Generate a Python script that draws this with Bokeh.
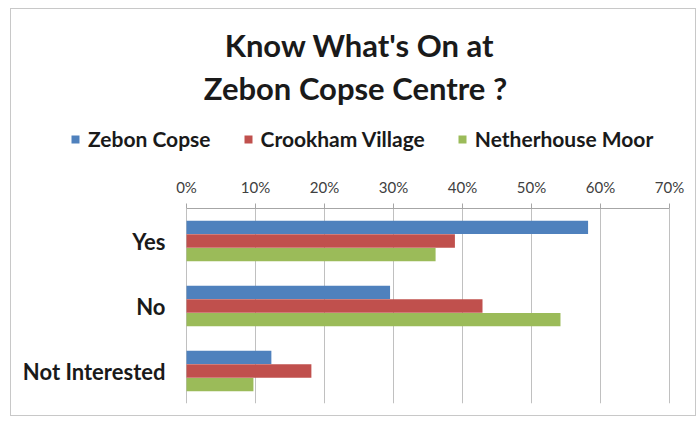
from bokeh.plotting import figure
from bokeh.layouts import column
from bokeh.models import (ColumnDataSource, FactorRange, Range1d, FixedTicker, NumeralTickFormatter,
                          Legend, LegendItem, Label, CDSView, IndexFilter)
from bokeh.core.properties import value
from bokeh.transform import dodge
from bokeh.embed import file_html
from bokeh.resources import INLINE

categories = ["Yes", "No", "Not Interested"]
series = ["Zebon Copse", "Crookham Village", "Netherhouse Moor"]
zebon = [0.582, 0.295, 0.123]
crookham = [0.389, 0.429, 0.181]
netherhouse = [0.361, 0.542, 0.097]
colors = ["#4F81BD", "#C0504D", "#9BBB59"]
tick_values = [0, 0.1, 0.2, 0.3, 0.4, 0.5, 0.6, 0.7]
title_lines = ["Know What's On at", "Zebon Copse Centre ?"]

FONT = "Lato"
TEXT = "#1a1a1a"
cols = ["zebon", "crookham", "netherhouse"]

# layout (pixels)
W = 684
H_HEAD, H_MAIN = 165, 241
X0_PX, X70_PX = 175, 658          # where 0% and 70% fall inside the canvas
px_per_unit = (X70_PX - X0_PX) / 0.7
x_start = -X0_PX / px_per_unit
x_end = 0.7 + (W - X70_PX) / px_per_unit

src = ColumnDataSource(dict(cat=categories, zebon=zebon, crookham=crookham, netherhouse=netherhouse))

# ---------------- header: title + legend ----------------
head = figure(width=W, height=H_HEAD, output_backend="svg", toolbar_location=None,
              x_range=Range1d(0, W), y_range=Range1d(0, H_HEAD),
              x_axis_location=None, y_axis_location=None,
              min_border=0, title=None)
head.outline_line_color = None
head.xgrid.visible = False
head.ygrid.visible = False
head.background_fill_color = "white"
head.border_fill_color = "white"

# zero-height bars: they draw nothing themselves, they only give the legend its swatches
first = CDSView(filter=IndexFilter([0]))
legend_renderers = []
for col, c in zip(cols, colors):
    legend_renderers.append(head.hbar(y=0, right=col, left=0, height=0, source=src, view=first,
                                      fill_color=c, line_color=None))

for txt, (lx, ly) in zip(title_lines, [(348, 130), (344, 87)]):
    head.add_layout(Label(x=lx, y=ly, x_units="screen", y_units="screen", text=txt,
                          text_align="center", text_baseline="middle",
                          text_font=FONT, text_font_size="31px", text_font_style="bold",
                          text_color=TEXT))

legend = Legend(items=[LegendItem(label=s, renderers=[r]) for s, r in zip(series, legend_renderers)],
                orientation="horizontal", location=(59, 23))
legend.label_text_font = FONT
legend.label_text_font_size = "21px"
legend.label_text_font_style = "bold"
legend.label_text_color = TEXT
legend.glyph_width = 10
legend.glyph_height = 10
legend.label_height = 20
legend.label_standoff = 8
legend.spacing = 32
legend.padding = 2
legend.margin = 0
legend.border_line_color = None
legend.background_fill_alpha = 0
head.add_layout(legend, "center")

# ---------------- main chart ----------------
p = figure(width=W, height=H_MAIN, output_backend="svg", toolbar_location=None,
           y_range=FactorRange(*categories[::-1]), x_range=Range1d(x_start, x_end),
           x_axis_location="above", y_axis_location=None,
           min_border_left=0, min_border_right=0,
           min_border_bottom=12, min_border_top=34, title=None)

offsets = [0.21, 0.0, -0.21]
for col, off, c in zip(cols, offsets, colors):
    p.hbar(y=dodge("cat", off, range=p.y_range), right=col, left=0, height=0.205,
           source=src, color=c, line_color=None)

p.text(x=0, y="cat", text="cat", source=src, x_offset=-21, text_align="right",
       text_baseline="middle", text_font=value(FONT), text_font_size="22px",
       text_font_style="bold", text_color=TEXT)

p.outline_line_color = None
p.background_fill_color = "white"
p.border_fill_color = "white"

xa = p.xaxis[0]
xa.ticker = FixedTicker(ticks=tick_values)
xa.bounds = (0, 0.7)
xa.formatter = NumeralTickFormatter(format="0%")
xa.major_label_text_font = FONT
xa.major_label_text_font_size = "15px"
xa.major_label_text_color = "#404040"
xa.axis_line_color = "#a6a6a6"
xa.major_tick_line_color = "#a6a6a6"
xa.major_tick_out = 5
xa.major_tick_in = 0
xa.minor_tick_line_color = None
xa.major_label_standoff = 8

p.xgrid.ticker = FixedTicker(ticks=tick_values)
p.xgrid.grid_line_color = "#c0c0c0"
p.ygrid.grid_line_color = None

layout = column(head, p, spacing=0)
layout.styles = {"border": "1px solid #c8c8c8", "margin-left": "10px", "margin-top": "8px"}

open("out.html", "w").write(file_html(layout, INLINE))
